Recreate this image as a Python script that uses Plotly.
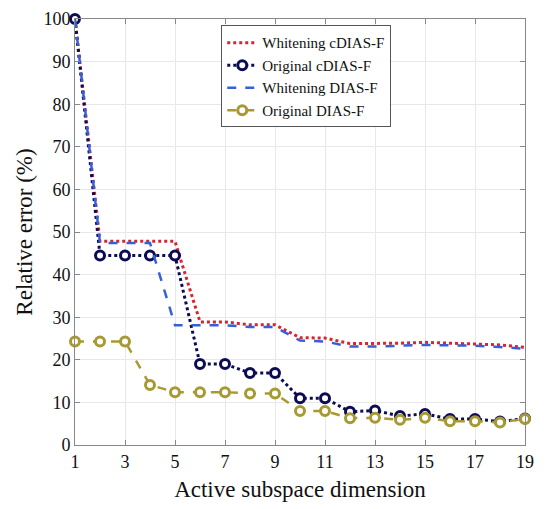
import plotly.graph_objects as go

dims = list(range(1, 20))
whitening_cdias = [100, 47.8, 47.8, 47.8, 47.8, 28.9, 28.9, 28.2, 28.2, 25.2,
                   25.1, 23.8, 23.8, 23.9, 24.1, 23.9, 23.8, 23.5, 22.9]
original_cdias = [100, 44.5, 44.5, 44.5, 44.5, 19.0, 19.0, 16.9, 16.9, 11.0,
                  11.0, 7.8, 8.1, 6.8, 7.3, 6.1, 6.1, 5.5, 6.2]
whitening_dias = [100, 47.4, 47.4, 47.4, 28.1, 28.1, 28.1, 27.7, 27.7, 24.5,
                  24.3, 23.1, 23.1, 23.3, 23.5, 23.4, 23.3, 23.0, 22.6]
original_dias = [24.3, 24.3, 24.3, 14.1, 12.4, 12.4, 12.4, 12.1, 12.1, 8.0,
                 8.0, 6.3, 6.4, 5.9, 6.4, 5.6, 5.6, 5.3, 6.1]
x_ticks = [1, 3, 5, 7, 9, 11, 13, 15, 17, 19]
y_ticks = list(range(0, 101, 10))

fig = go.Figure()
fig.add_trace(go.Scatter(x=dims, y=whitening_cdias, mode='lines', name='Whitening cDIAS-F',
                         cliponaxis=False,
                         line=dict(color='#d8242c', dash='dot', width=3)))
fig.add_trace(go.Scatter(x=dims, y=original_cdias, mode='lines+markers', name='Original cDIAS-F',
                         cliponaxis=False,
                         line=dict(color='#0c0c55', dash='dot', width=3),
                         marker=dict(symbol='circle', size=9, color='white',
                                     line=dict(color='#0c0c55', width=3))))
fig.add_trace(go.Scatter(x=dims, y=whitening_dias, mode='lines', name='Whitening DIAS-F',
                         cliponaxis=False,
                         line=dict(color='#3560d8', dash='dash', width=2.5)))
fig.add_trace(go.Scatter(x=dims, y=original_dias, mode='lines+markers', name='Original DIAS-F',
                         cliponaxis=False,
                         line=dict(color='#a89a32', dash='dash', width=2.5),
                         marker=dict(symbol='circle', size=9, color='white',
                                     line=dict(color='#a89a32', width=3))))

# page has an 8px body margin, so margins are shifted by 8px to compensate
fig.update_layout(
    width=550, height=509,
    margin=dict(l=67, r=33, t=11, b=72),
    paper_bgcolor='white', plot_bgcolor='white',
    font=dict(family='Liberation Serif', size=18, color='#111'),
    showlegend=True,
    legend=dict(x=0.325, y=0.985, xanchor='left', yanchor='top',
                bgcolor='white', bordercolor='#555', borderwidth=1,
                font=dict(size=15), tracegroupgap=0, itemwidth=30),
    xaxis=dict(title=dict(text='Active subspace dimension', font=dict(size=23), standoff=10),
               automargin=False,
               range=[1, 19], tickvals=x_ticks, ticks='inside', ticklen=5,
               tickcolor='#888', showline=True, linecolor='#888', mirror='ticks',
               showgrid=True, gridcolor='#e8e8e8', zeroline=False),
    yaxis=dict(title=dict(text='Relative error (%)', font=dict(size=23), standoff=4),
               automargin=False,
               range=[0, 100], tickvals=y_ticks, ticks='inside', ticklen=5,
               tickcolor='#888', showline=True, linecolor='#888', mirror='ticks',
               showgrid=True, gridcolor='#e8e8e8', zeroline=False),
)

fig.write_html("out.html")
